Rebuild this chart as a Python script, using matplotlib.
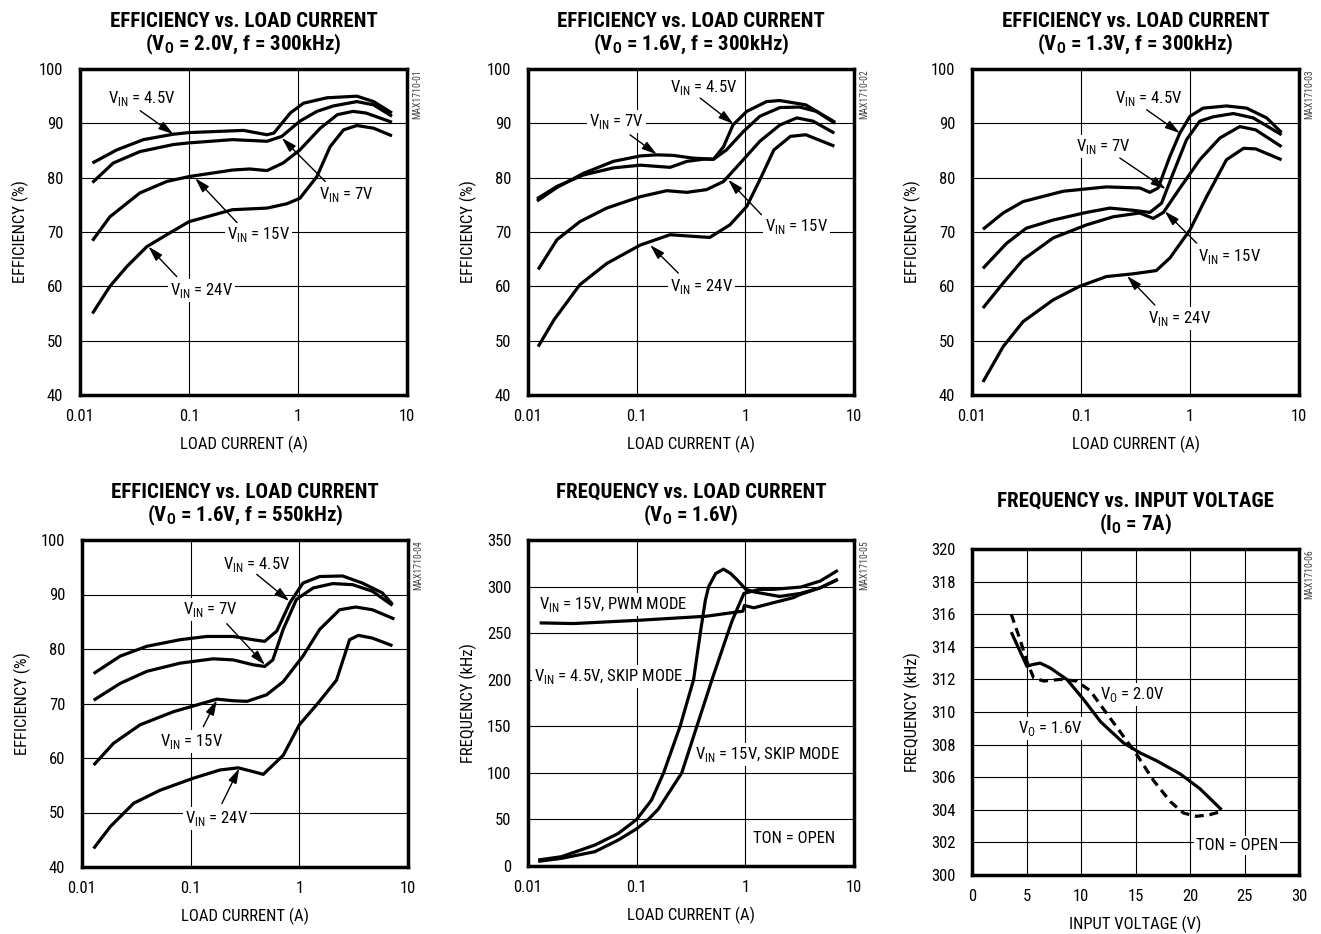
import matplotlib
matplotlib.use("Agg")
import matplotlib.pyplot as plt
from matplotlib import font_manager as fm

# ------------------------------------------------------------------ data
# Plot 1: efficiency vs load current (VO = 2.0V, f = 300kHz)
e1_45_i = [0.013, 0.0217, 0.0382, 0.072, 0.1, 0.316, 0.518, 0.6, 0.85, 1.12, 1.84, 3.47, 4.94, 7.28]
e1_45_e = [82.7, 85.1, 87.0, 88.0, 88.3, 88.7, 87.9, 88.2, 91.9, 93.7, 94.7, 95.0, 94.0, 91.9]
e1_7_i = [0.013, 0.0202, 0.0355, 0.072, 0.1, 0.25, 0.52, 0.71, 1.04, 1.49, 2.11, 3.47, 4.94, 7.28]
e1_7_e = [79.1, 82.7, 84.8, 86.1, 86.4, 87.0, 86.7, 87.6, 90.4, 92.2, 93.2, 94.0, 93.4, 91.3]
e1_15_i = [0.013, 0.0188, 0.0355, 0.0625, 0.1, 0.25, 0.36, 0.52, 0.73, 1.04, 1.6, 2.3, 3.2, 4.2, 7.28]
e1_15_e = [68.4, 72.8, 77.2, 79.3, 80.2, 81.4, 81.6, 81.3, 82.7, 85.1, 89.1, 91.6, 92.2, 91.9, 90.2]
e1_24_i = [0.013, 0.0188, 0.0268, 0.041, 0.0625, 0.1, 0.25, 0.52, 0.79, 1.04, 1.49, 1.97, 2.62, 3.47, 4.94, 7.28]
e1_24_e = [55.0, 60.0, 63.6, 67.3, 69.5, 71.9, 74.1, 74.4, 75.2, 76.2, 80.2, 85.7, 88.8, 89.6, 89.1, 87.7]

# Plot 2: efficiency vs load current (VO = 1.6V, f = 300kHz)
e2_45_i = [0.0121, 0.0185, 0.0324, 0.061, 0.108, 0.203, 0.29, 0.41, 0.51, 0.63, 0.77, 1.03, 1.57, 2.07, 3.6, 6.7]
e2_45_e = [76.1, 78.4, 80.5, 81.8, 82.3, 81.9, 83.0, 83.4, 83.4, 85.7, 89.7, 92.2, 94.0, 94.2, 93.4, 90.2]
e2_7_i = [0.0121, 0.0185, 0.0324, 0.061, 0.108, 0.153, 0.217, 0.33, 0.51, 0.67, 0.96, 1.36, 2.08, 3.16, 4.5, 6.7]
e2_7_e = [75.7, 78.2, 80.8, 83.0, 84.0, 84.2, 84.1, 83.6, 83.4, 85.1, 88.5, 91.3, 92.9, 93.0, 92.2, 90.0]
e2_15_i = [0.0124, 0.0185, 0.030, 0.053, 0.108, 0.189, 0.29, 0.44, 0.63, 0.9, 1.36, 2.08, 2.98, 4.2, 6.6]
e2_15_e = [63.1, 68.6, 71.9, 74.4, 76.5, 77.6, 77.3, 77.8, 79.3, 82.7, 86.7, 89.7, 91.0, 90.4, 88.2]
e2_24_i = [0.0124, 0.0173, 0.030, 0.053, 0.108, 0.203, 0.33, 0.47, 0.72, 1.03, 1.36, 1.83, 2.6, 3.6, 6.6]
e2_24_e = [48.9, 53.8, 60.3, 64.2, 67.6, 69.5, 69.2, 69.0, 71.3, 74.7, 79.6, 85.1, 87.6, 87.9, 85.8]

# Plot 3: efficiency vs load current (VO = 1.3V, f = 300kHz)
e3_45_i = [0.0126, 0.0193, 0.0294, 0.0685, 0.171, 0.347, 0.428, 0.51, 0.653, 0.807, 1.0, 1.32, 2.16, 3.3, 5.05, 6.92]
e3_45_e = [70.5, 73.5, 75.6, 77.5, 78.3, 78.1, 77.3, 78.1, 83.9, 88.2, 91.3, 92.8, 93.2, 92.8, 91.0, 88.3]
e3_7_i = [0.0126, 0.0207, 0.0315, 0.0555, 0.112, 0.184, 0.30, 0.428, 0.548, 0.70, 0.93, 1.23, 1.63, 2.5, 3.8, 6.92]
e3_7_e = [63.3, 67.9, 70.7, 72.2, 73.6, 74.4, 74.0, 73.6, 75.3, 80.8, 87.0, 90.4, 91.2, 91.8, 91.0, 87.9]
e3_15_i = [0.0126, 0.0193, 0.0294, 0.0555, 0.112, 0.197, 0.345, 0.46, 0.57, 0.81, 1.23, 1.88, 2.86, 4.0, 6.92]
e3_15_e = [56.0, 60.6, 64.9, 68.9, 71.3, 72.8, 73.5, 72.5, 73.6, 78.1, 83.3, 87.3, 89.4, 88.8, 85.7]
e3_24_i = [0.0126, 0.0193, 0.0294, 0.0555, 0.097, 0.171, 0.30, 0.49, 0.653, 1.0, 1.42, 2.16, 3.1, 4.0, 6.92]
e3_24_e = [42.4, 48.9, 53.5, 57.5, 60.0, 61.8, 62.3, 62.9, 65.2, 70.4, 76.5, 83.3, 85.4, 85.3, 83.3]

# Plot 4: efficiency vs load current (VO = 1.6V, f = 550kHz)
e4_45_i = [0.0128, 0.0225, 0.0395, 0.0798, 0.14, 0.247, 0.376, 0.48, 0.62, 0.82, 1.08, 1.54, 2.5, 3.8, 5.8, 7.2]
e4_45_e = [75.5, 78.7, 80.5, 81.7, 82.3, 82.3, 81.7, 81.4, 83.3, 88.5, 92.1, 93.3, 93.4, 92.1, 90.3, 88.2]
e4_7_i = [0.0128, 0.0225, 0.0395, 0.0798, 0.161, 0.247, 0.376, 0.48, 0.57, 0.71, 0.94, 1.34, 2.03, 3.1, 4.7, 7.2]
e4_7_e = [70.6, 73.7, 75.9, 77.4, 78.2, 78.0, 77.1, 76.8, 78.0, 83.6, 89.1, 91.2, 92.0, 91.8, 90.6, 88.0]
e4_15_i = [0.0128, 0.0195, 0.0343, 0.0695, 0.122, 0.174, 0.247, 0.33, 0.50, 0.71, 1.08, 1.54, 2.35, 3.3, 4.7, 7.5]
e4_15_e = [58.7, 62.7, 66.1, 68.5, 69.9, 70.8, 70.5, 70.4, 71.6, 74.0, 78.7, 83.6, 87.2, 87.7, 87.2, 85.5]
e4_24_i = [0.0128, 0.0182, 0.0299, 0.0525, 0.106, 0.186, 0.274, 0.376, 0.466, 0.711, 1.0, 1.49, 2.2, 2.9, 3.5, 4.7, 7.2]
e4_24_e = [43.4, 47.4, 51.7, 54.1, 56.3, 57.8, 58.2, 57.5, 57.0, 60.5, 66.1, 70.1, 74.3, 81.7, 82.5, 82.0, 80.6]

# Plot 5: frequency vs load current (VO = 1.6V)
f5_pwm_i = [0.0128, 0.0263, 0.108, 0.44, 0.95, 0.98, 1.2, 1.8, 2.75, 3.2, 4.9, 7.1]
f5_pwm_f = [261.0, 260.3, 263.9, 268.2, 273.6, 279.7, 277.2, 282.6, 288.0, 291.5, 298.7, 307.7]
f5_s45_i = [0.0124, 0.0203, 0.0413, 0.0678, 0.1, 0.137, 0.177, 0.251, 0.334, 0.385, 0.428, 0.46, 0.533,
            0.63, 0.733, 0.845, 1.01, 1.2, 2.07, 3.2, 4.9, 7.1]
f5_s45_f = [6.4, 10.0, 22.5, 35.0, 50.0, 70.8, 100.0, 150.0, 200.0, 250.0, 285.0, 300.0, 314.0,
            318.7, 314.0, 306.9, 297.0, 294.3, 289.4, 292.6, 298.7, 307.7]
f5_s15_i = [0.0124, 0.0203, 0.0413, 0.0678, 0.1, 0.128, 0.158, 0.26, 0.358, 0.493, 0.69, 0.76, 0.97,
            1.34, 1.8, 3.25, 4.9, 7.1]
f5_s15_f = [5.0, 8.2, 15.4, 27.9, 40.0, 50.0, 61.0, 100.0, 150.0, 200.0, 250.0, 264.0, 292.6,
            297.0, 297.0, 299.5, 306.0, 317.4]

# Plot 6: frequency vs input voltage (IO = 7A)
f6_16_v = [3.6, 5.04, 5.5, 6.26, 7.18, 8.7, 10.2, 11.8, 13.9, 15.4, 16.96, 19.1, 20.9, 22.9]
f6_16_f = [314.9, 312.8, 312.9, 313.0, 312.7, 312.0, 310.8, 309.4, 308.1, 307.5, 307.0, 306.2, 305.3, 304.0]
f6_20_v = [3.6, 4.43, 5.04, 5.65, 6.57, 8.1, 9.6, 10.85, 12.37, 13.9, 15.1, 16.65, 18.2, 19.4, 20.6, 21.8, 22.9]
f6_20_f = [316.0, 314.4, 313.1, 312.1, 311.9, 312.0, 311.9, 311.3, 309.9, 308.5, 307.4, 305.8, 304.5, 303.8, 303.6, 303.7, 303.9]

# Tick values / labels
cur_ticks = [0.01, 0.1, 1, 10]
cur_labels = ["0.01", "0.1", "1", "10"]
eff_ticks = [40, 50, 60, 70, 80, 90, 100]
f5_ticks = [0, 50, 100, 150, 200, 250, 300, 350]
f6_xticks = [0, 5, 10, 15, 20, 25, 30]
f6_yticks = [300, 302, 304, 306, 308, 310, 312, 314, 316, 318, 320]

# ------------------------------------------------------------------ fonts
def pick_font():
    fl = fm.fontManager.ttflist
    names = {f.name for f in fl}
    for nm in ["Liberation Sans Narrow", "Roboto Condensed", "Open Sans Condensed",
               "Noto Sans Condensed", "DejaVu Sans Condensed", "Arial Narrow", "Nimbus Sans Narrow"]:
        if nm in names:
            return nm, "normal", True
    for nm in ["DejaVu Sans", "Noto Sans", "Roboto", "Open Sans", "Liberation Sans"]:
        if any(f.name == nm and str(f.stretch) in ("condensed", "semi-condensed", "extra-condensed")
               for f in fl):
            return nm, "condensed", True
    return "Liberation Sans", "normal", False

FONT, STRETCH, CONDENSED = pick_font()
plt.rcParams["font.family"] = [FONT, "DejaVu Sans"]
plt.rcParams["font.stretch"] = STRETCH
SC = 1.0 if CONDENSED else 0.9
FS_TICK = 12 * SC
FS_LAB = 12 * SC
FS_ANN = 12 * SC
FS_TITLE = 15 * SC
FS_CODE = 7

W, H = 1321, 934
fig = plt.figure(figsize=(W / 100, H / 100), dpi=100)

def make_ax(box):
    l, t, r, b = box
    return fig.add_axes([l / W, (H - b) / H, (r - l) / W, (b - t) / H])

def setup(ax, title, xlabel, ylabel, code, log=True):
    if log:
        ax.set_xscale("log")
        ax.set_xlim(0.01, 10)
        ax.set_xticks(cur_ticks, cur_labels)
        ax.minorticks_off()
    ax.grid(True, which="major", color="black", lw=0.8)
    ax.set_axisbelow(True)
    for s in ax.spines.values():
        s.set_linewidth(2.5)
    ax.tick_params(length=0, labelsize=FS_TICK, pad=10)
    ax.tick_params(axis="y", pad=12)
    ax.set_xlabel(xlabel, fontsize=FS_LAB)
    ax.set_ylabel(ylabel, fontsize=FS_LAB)
    ax.xaxis.set_label_coords(0.5, -0.125)
    ax.yaxis.set_label_coords(-0.155, 0.5)
    ax.set_title(title, fontsize=FS_TITLE, fontweight="heavy", pad=13, linespacing=1.1)
    ax.text(1.03, 1.0, code, transform=ax.transAxes, rotation=90, ha="center", va="top",
            fontsize=FS_CODE, color="#444444")

def curve(ax, x, y, **kw):
    ax.plot(x, y, color="black", lw=2.3, solid_joinstyle="round", solid_capstyle="butt",
            zorder=4, **kw)

ARROW = dict(arrowstyle="-|>,head_length=0.75,head_width=0.22", color="black", lw=1.0,
             mutation_scale=12, shrinkA=0, shrinkB=0)

def label(ax, txt, pos, tail=None, tip=None, ha="center"):
    ax.text(pos[0], pos[1], txt, transform=ax.transAxes, ha=ha, va="center", fontsize=FS_ANN,
            bbox=dict(fc="white", ec="none", pad=1.5), zorder=3)
    if tip is not None:
        ax.annotate("", xy=tip, xycoords="data", xytext=tail, textcoords="axes fraction",
                    arrowprops=ARROW, zorder=5)

VIN = r"V$_{\mathdefault{IN}}$"
VO = r"V$_{\mathdefault{O}}$"
IO = r"I$_{\mathdefault{O}}$"

# ---------------- plot 1
ax = make_ax((80, 69, 407, 395))
curve(ax, e1_45_i, e1_45_e); curve(ax, e1_7_i, e1_7_e)
curve(ax, e1_15_i, e1_15_e); curve(ax, e1_24_i, e1_24_e)
ax.set_ylim(40, 100); ax.set_yticks(eff_ticks)
setup(ax, "EFFICIENCY vs. LOAD CURRENT\n(" + VO + " = 2.0V, f = 300kHz)",
      "LOAD CURRENT (A)", "EFFICIENCY (%)", "MAX1710-01")
label(ax, VIN + " = 4.5V", (0.189, 0.909), (0.184, 0.872), (0.072, 88.0))
label(ax, VIN + " = 7V", (0.816, 0.614), (0.75, 0.655), (0.711, 87.3))
label(ax, VIN + " = 15V", (0.546, 0.491), (0.48, 0.529), (0.114, 79.9))
label(ax, VIN + " = 24V", (0.372, 0.322), (0.296, 0.363), (0.0425, 67.3))

# ---------------- plot 2
ax = make_ax((528, 69, 854, 395))
curve(ax, e2_45_i, e2_45_e); curve(ax, e2_7_i, e2_7_e)
curve(ax, e2_15_i, e2_15_e); curve(ax, e2_24_i, e2_24_e)
ax.set_ylim(40, 100); ax.set_yticks(eff_ticks)
setup(ax, "EFFICIENCY vs. LOAD CURRENT\n(" + VO + " = 1.6V, f = 300kHz)",
      "LOAD CURRENT (A)", "EFFICIENCY (%)", "MAX1710-02")
label(ax, VIN + " = 4.5V", (0.538, 0.942), (0.528, 0.911), (0.775, 89.9))
label(ax, VIN + " = 7V", (0.272, 0.839), (0.313, 0.798), (0.153, 84.3))
label(ax, VIN + " = 15V", (0.823, 0.517), (0.716, 0.553), (0.697, 79.6))
label(ax, VIN + " = 24V", (0.533, 0.333), (0.461, 0.374), (0.133, 67.6))

# ---------------- plot 3
ax = make_ax((972, 69, 1299, 395))
curve(ax, e3_45_i, e3_45_e); curve(ax, e3_7_i, e3_7_e)
curve(ax, e3_15_i, e3_15_e); curve(ax, e3_24_i, e3_24_e)
ax.set_ylim(40, 100); ax.set_yticks(eff_ticks)
setup(ax, "EFFICIENCY vs. LOAD CURRENT\n(" + VO + " = 1.3V, f = 300kHz)",
      "LOAD CURRENT (A)", "EFFICIENCY (%)", "MAX1710-03")
label(ax, VIN + " = 4.5V", (0.539, 0.911), (0.534, 0.875), (0.807, 88.2))
label(ax, VIN + " = 7V", (0.401, 0.763), (0.452, 0.727), (0.60, 77.9))
label(ax, VIN + " = 15V", (0.787, 0.425), (0.687, 0.466), (0.587, 73.8))
label(ax, VIN + " = 24V", (0.634, 0.235), (0.559, 0.276), (0.265, 61.9))

# ---------------- plot 4
ax = make_ax((82, 540, 408, 867))
curve(ax, e4_45_i, e4_45_e); curve(ax, e4_7_i, e4_7_e)
curve(ax, e4_15_i, e4_15_e); curve(ax, e4_24_i, e4_24_e)
ax.set_ylim(40, 100); ax.set_yticks(eff_ticks)
setup(ax, "EFFICIENCY vs. LOAD CURRENT\n(" + VO + " = 1.6V, f = 550kHz)",
      "LOAD CURRENT (A)", "EFFICIENCY (%)", "MAX1710-04")
label(ax, VIN + " = 4.5V", (0.536, 0.925), (0.536, 0.895), (0.807, 88.8))
label(ax, VIN + " = 7V", (0.393, 0.787), (0.444, 0.744), (0.482, 77.1))
label(ax, VIN + " = 15V", (0.337, 0.383), (0.372, 0.429), (0.174, 70.6))
label(ax, VIN + " = 24V", (0.413, 0.148), (0.429, 0.194), (0.28, 58.1))

# ---------------- plot 5
ax = make_ax((528, 540, 854, 866))
curve(ax, f5_pwm_i, f5_pwm_f); curve(ax, f5_s45_i, f5_s45_f); curve(ax, f5_s15_i, f5_s15_f)
ax.set_ylim(0, 350); ax.set_yticks(f5_ticks)
setup(ax, "FREQUENCY vs. LOAD CURRENT\n(" + VO + " = 1.6V)",
      "LOAD CURRENT (A)", "FREQUENCY (kHz)", "MAX1710-05")
label(ax, VIN + " = 15V, PWM MODE", (0.035, 0.802), ha="left")
label(ax, VIN + " = 4.5V, SKIP MODE", (0.017, 0.582), ha="left")
label(ax, VIN + " = 15V, SKIP MODE", (0.512, 0.341), ha="left")
label(ax, "TON = OPEN", (0.691, 0.085), ha="left")

# ---------------- plot 6
ax = make_ax((972, 549, 1299, 875))
curve(ax, f6_16_v, f6_16_f)
ax.plot(f6_20_v, f6_20_f, color="black", lw=2.3, ls=(0, (2.8, 1.8)), zorder=4)
ax.set_xlim(0, 30); ax.set_xticks(f6_xticks)
ax.set_ylim(300, 320); ax.set_yticks(f6_yticks)
setup(ax, "FREQUENCY vs. INPUT VOLTAGE\n(" + IO + " = 7A)",
      "INPUT VOLTAGE (V)", "FREQUENCY (kHz)", "MAX1710-06", log=False)
label(ax, VO + " = 2.0V", (0.489, 0.555))
label(ax, VO + " = 1.6V", (0.239, 0.45))
label(ax, "TON = OPEN", (0.81, 0.092))

fig.savefig("out.png", dpi=100, facecolor="white")
